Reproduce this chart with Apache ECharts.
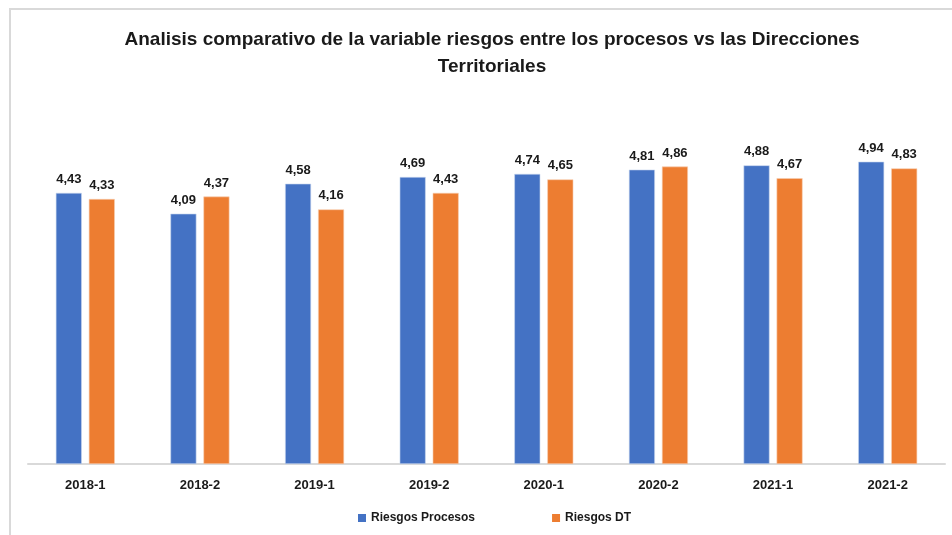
<!DOCTYPE html>
<html>
<head>
<meta charset="utf-8">
<script src="https://cdn.jsdelivr.net/npm/echarts@6/dist/echarts.min.js"></script>
<style>
  html, body { margin: 0; padding: 0; background: #ffffff; }
  #chart { width: 952px; height: 535px; }
</style>
</head>
<body>
<div id="chart"></div>
<script>
// Periods on the x axis
const periods = ['2018-1', '2018-2', '2019-1', '2019-2', '2020-1', '2020-2', '2021-1', '2021-2'];
// Risk scores per period
const riesgosProcesos = [4.43, 4.09, 4.58, 4.69, 4.74, 4.81, 4.88, 4.94];
const riesgosDT = [4.33, 4.37, 4.16, 4.43, 4.65, 4.86, 4.67, 4.83];

const FONT = '"Liberation Sans", Arial, sans-serif';
const fmt = v => v.toFixed(2).replace('.', ',');

const chart = echarts.init(document.getElementById('chart'), null, { renderer: 'canvas' });

const labelStyle = {
  show: true,
  position: 'top',
  distance: 7,
  color: '#1a1a1a',
  fontFamily: FONT,
  fontWeight: 'bold',
  fontSize: 13,
  formatter: p => fmt(p.value)
};

chart.setOption({
  backgroundColor: '#ffffff',
  animation: false,
  graphic: [{
    type: 'rect',
    z: -1,
    shape: { x: 10, y: 9, width: 960, height: 560 },
    style: { fill: '#ffffff', stroke: '#d9d9d9', lineWidth: 2 }
  }],
  title: {
    text: 'Analisis comparativo de la variable riesgos entre los procesos vs las Direcciones\nTerritoriales',
    left: 487,
    textAlign: 'center',
    top: 21,
    textStyle: {
      fontFamily: FONT,
      fontWeight: 'bold',
      fontSize: 19,
      lineHeight: 27,
      color: '#1a1a1a'
    }
  },
  legend: {
    bottom: 6,
    left: 353,
    itemWidth: 8,
    itemHeight: 8,
    itemGap: 77,
    icon: 'rect',
    itemStyle: { borderWidth: 0 },
    textStyle: { fontFamily: FONT, fontWeight: 'bold', fontSize: 12, color: '#1a1a1a' },
    data: ['Riesgos Procesos', 'Riesgos DT']
  },
  grid: { left: 28, right: 7, top: 158, bottom: 71 },
  xAxis: {
    type: 'category',
    data: periods,
    axisLine: { show: true, lineStyle: { color: '#d9d9d9', width: 2 } },
    axisTick: { show: false },
    axisLabel: {
      margin: 15,
      fontFamily: FONT,
      fontWeight: 'bold',
      fontSize: 13,
      color: '#1a1a1a'
    }
  },
  yAxis: {
    type: 'value',
    min: 0,
    max: 5,
    show: false,
    splitLine: { show: false }
  },
  series: [
    {
      name: 'Riesgos Procesos',
      type: 'bar',
      data: riesgosProcesos,
      barWidth: 26,
      barGap: '27%',
      itemStyle: { color: '#4472C4', borderColor: '#c9d6ef', borderWidth: 0.6 },
      label: labelStyle
    },
    {
      name: 'Riesgos DT',
      type: 'bar',
      data: riesgosDT,
      barWidth: 26,
      barGap: '27%',
      itemStyle: { color: '#ED7D31', borderColor: '#f7cfb2', borderWidth: 0.6 },
      label: labelStyle
    }
  ]
});
</script>
</body>
</html>
